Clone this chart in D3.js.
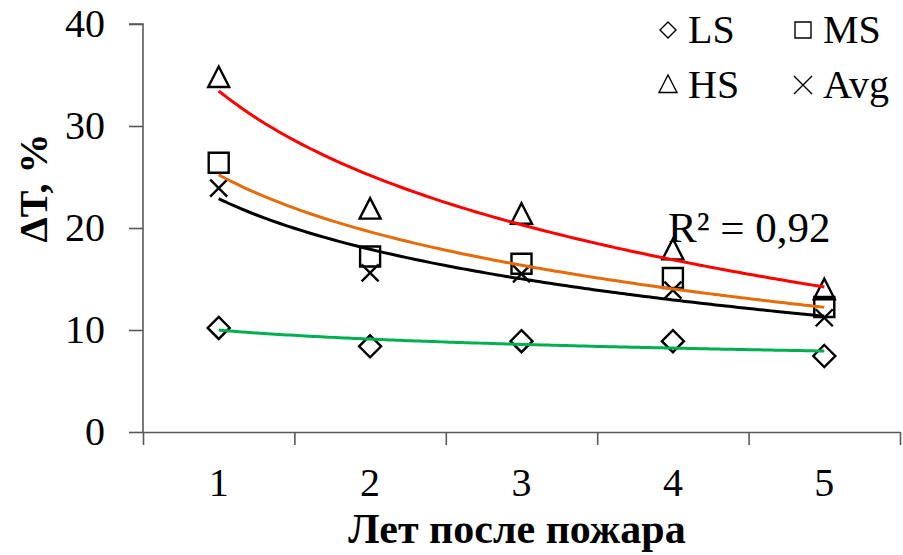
<!DOCTYPE html>
<meta charset="utf-8">
<style>
body { margin: 0; background: #fff; }
text { font-family: "Liberation Serif", "Times New Roman", serif; fill: #000; }
</style>
<body>
<svg width="903" height="555"></svg>
<script src="https://d3js.org/d3.v7.min.js"></script>
<script>

// years after fire
var years = [1, 2, 3, 4, 5];

var lsValues  = [10.2, 8.4, 8.9, 8.9, 7.45];
var msValues  = [26.4, 17.2, 16.5, 15.1, 12.25];
var hsValues  = [34.8, 21.9, 21.4, 17.9, 14.0];
var avgValues = [23.9, 15.6, 15.5, 13.9, 11.2];

var yTicks = [0, 10, 20, 30, 40];

var svg = d3.select("svg");

var x = d3.scaleLinear()
  .domain([0.5, 5.5])
  .range([143, 900]);

var y = d3.scaleLinear()
  .domain([0, 40])
  .range([432, 24]);

var axisColor = "#595959";

// y axis
var yAxis = d3.axisLeft(y)
  .tickValues(yTicks)
  .tickSize(14)
  .tickPadding(24);

var yGroup = svg.append("g")
  .attr("transform", "translate(" + x(0.5) + ",0)")
  .call(yAxis);

// x axis, ticks between the categories
var xAxis = d3.axisBottom(x)
  .tickValues([0.5, 1.5, 2.5, 3.5, 4.5, 5.5])
  .tickSize(13)
  .tickSizeOuter(0)
  .tickFormat("");

var xGroup = svg.append("g")
  .attr("transform", "translate(0," + y(0) + ")")
  .call(xAxis);

[yGroup, xGroup].forEach(function(g) {
  g.selectAll("path, line").attr("stroke", axisColor).attr("stroke-width", 1.6);
});
yGroup.select(".domain").attr("d", "M-14," + y(40) + "H0V" + y(0));

yGroup.selectAll("text")
  .attr("font-size", 40)
  .attr("dy", "0.32em")
  .attr("fill", "#000")
  .style("font-family", "'Liberation Serif', serif");

svg.append("g").selectAll("text")
  .data(years)
  .enter().append("text")
  .attr("x", function(d) { return x(d); })
  .attr("y", 496)
  .attr("text-anchor", "middle")
  .attr("font-size", 40)
  .text(function(d) { return d; });

// axis titles
svg.append("text")
  .attr("x", 517)
  .attr("y", 543)
  .attr("text-anchor", "middle")
  .attr("font-size", 42)
  .attr("font-weight", "bold")
  .text("Лет после пожара");

svg.append("text")
  .attr("transform", "translate(47,188) rotate(-90)")
  .attr("text-anchor", "middle")
  .attr("font-size", 40)
  .attr("font-weight", "bold")
  .text("ΔT, %");

// marker shapes
function diamond(r) { return "M0," + (-r) + "L" + r + ",0L0," + r + "L" + (-r) + ",0Z"; }
function square(r) { return "M" + (-r) + "," + (-r) + "H" + r + "V" + r + "H" + (-r) + "Z"; }
function triangle(r) { return "M0," + (-r) + "L" + r + "," + r * 0.95 + "H" + (-r) + "Z"; }
function cross(r) { return "M" + (-r) + "," + (-r) + "L" + r + "," + r + "M" + r + "," + (-r) + "L" + (-r) + "," + r; }

var series = [
  {name: "LS", values: lsValues, shape: diamond, size: 11, color: "#00b050"},
  {name: "MS", values: msValues, shape: square, size: 10, color: "#e46c0a"},
  {name: "HS", values: hsValues, shape: triangle, size: 10.5, color: "#ff0000"},
  {name: "Avg", values: avgValues, shape: cross, size: 8.5, color: "#000000"}
];

// logarithmic trendline, least squares on ln(x)
function logFit(vals) {
  var lx = years.map(function(d) { return Math.log(d); });
  var mx = d3.mean(lx), my = d3.mean(vals);
  var sxy = d3.sum(lx, function(d, i) { return (d - mx) * (vals[i] - my); });
  var sxx = d3.sum(lx, function(d) { return (d - mx) * (d - mx); });
  var a = sxy / sxx;
  return {a: a, b: my - a * mx};
}

series.forEach(function(s) {
  svg.append("g").selectAll("path")
    .data(s.values)
    .enter().append("path")
    .attr("transform", function(d, i) { return "translate(" + x(years[i]) + "," + y(d) + ")"; })
    .attr("d", s.shape(s.size))
    .attr("fill", "none")
    .attr("stroke", "#000")
    .attr("stroke-width", 2.4);
});

var line = d3.line()
  .x(function(d) { return x(d[0]); })
  .y(function(d) { return y(d[1]); })
  .curve(d3.curveBasis);

// draw green, orange, black, red like the original
[series[0], series[1], series[3], series[2]].forEach(function(s) {
  var f = logFit(s.values);
  var pts = d3.range(1, 5.001, 0.05).map(function(t) { return [t, f.a * Math.log(t) + f.b]; });
  svg.append("path")
    .datum(pts)
    .attr("d", line)
    .attr("fill", "none")
    .attr("stroke", s.color)
    .attr("stroke-width", 3);
});

svg.append("text")
  .attr("x", 668)
  .attr("y", 242)
  .attr("font-size", 43)
  .text("R² = 0,92");

// legend
var legendPos = [[668, 30, 688, 43], [803, 30, 823, 43], [668, 84, 688, 98], [803, 85, 823, 98]];
var legendSize = [8, 8, 9, 9];
var legendOrder = [series[0], series[1], series[2], series[3]];

legendOrder.forEach(function(s, i) {
  var p = legendPos[i];
  svg.append("path")
    .attr("transform", "translate(" + p[0] + "," + p[1] + ")")
    .attr("d", s.shape(legendSize[i]))
    .attr("fill", "none")
    .attr("stroke", "#000")
    .attr("stroke-width", 1.4);
  svg.append("text")
    .attr("x", p[2])
    .attr("y", p[3])
    .attr("font-size", 40)
    .text(s.name);
});

</script>
</body>
